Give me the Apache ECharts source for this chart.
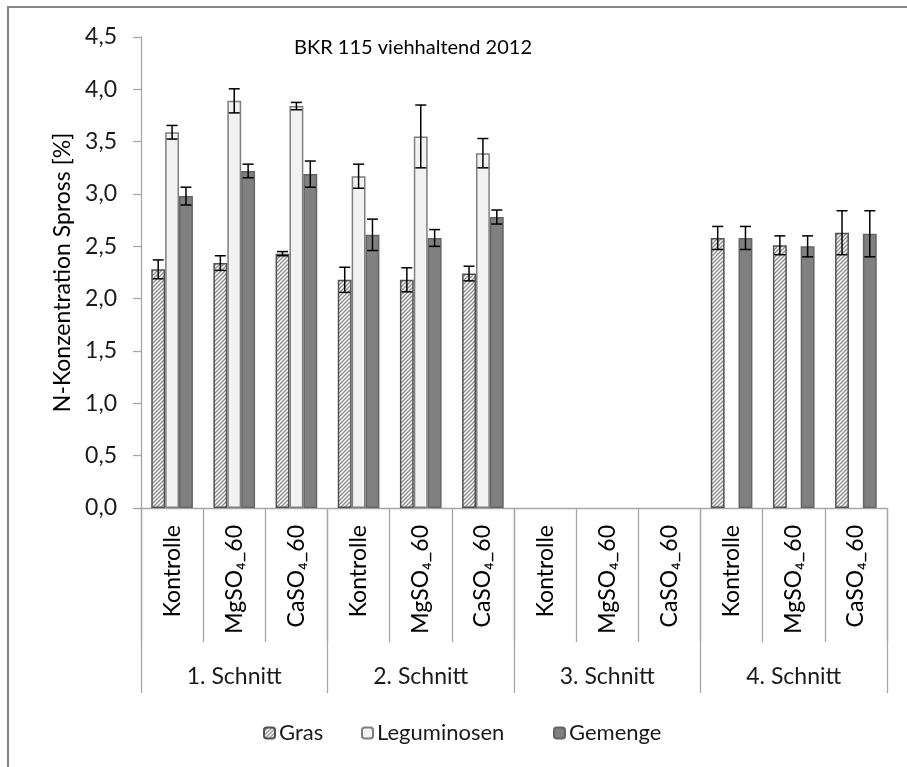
<!DOCTYPE html>
<html>
<head>
<meta charset="utf-8">
<script src="https://cdn.jsdelivr.net/npm/echarts@6/dist/echarts.min.js"></script>
<style>
  html, body { margin: 0; padding: 0; background: #fff; }
  #chart { width: 907px; height: 767px; }
</style>
</head>
<body>
<div id="chart"></div>
<script>
// Treatments per cut, repeated for four cuts
const categories = [
  'Kontrolle', 'MgSO₄_60', 'CaSO₄_60',
  'Kontrolle', 'MgSO₄_60', 'CaSO₄_60',
  'Kontrolle', 'MgSO₄_60', 'CaSO₄_60',
  'Kontrolle', 'MgSO₄_60', 'CaSO₄_60'
];
const cuts = ['1. Schnitt', '2. Schnitt', '3. Schnitt', '4. Schnitt'];

// N concentration in shoot [%] and standard errors
const gras        = [2.28, 2.34, 2.43, 2.18, 2.18, 2.24, null, null, null, 2.58, 2.51, 2.63];
const grasErr     = [0.09, 0.07, 0.02, 0.12, 0.115, 0.07, null, null, null, 0.11, 0.09, 0.21];
const legum       = [3.59, 3.89, 3.84, 3.17, 3.55, 3.39, null, null, null, null, null, null];
const legumErr    = [0.065, 0.115, 0.035, 0.115, 0.30, 0.14, null, null, null, null, null, null];
const gemenge     = [2.98, 3.22, 3.19, 2.61, 2.58, 2.78, null, null, null, 2.58, 2.50, 2.62];
const gemengeErr  = [0.085, 0.065, 0.125, 0.15, 0.08, 0.067, null, null, null, 0.11, 0.10, 0.22];

const yTicks = { min: 0, max: 4.5, step: 0.5 };

const FONT = 'Lato, "Open Sans", sans-serif';
const GAP = 0.33; // share of a category left empty between bar clusters

// diagonal hatch used for the grass bars
function hatch() {
  const c = document.createElement('canvas');
  const s = 4;
  c.width = s; c.height = s;
  const g = c.getContext('2d');
  g.fillStyle = '#ffffff';
  g.fillRect(0, 0, s, s);
  g.strokeStyle = '#8a8a8a';
  g.lineWidth = 1.3;
  g.beginPath();
  g.moveTo(-1, s + 1); g.lineTo(s + 1, -1);
  g.moveTo(-1, 1); g.lineTo(1, -1);
  g.moveTo(s - 1, s + 1); g.lineTo(s + 1, s - 1);
  g.stroke();
  return c;
}

function errData(vals, errs) {
  const out = [];
  vals.forEach((v, i) => {
    if (v != null && errs[i] != null) out.push([i, v, errs[i]]);
  });
  return out;
}

function errSeries(name, vals, errs, slot) {
  return {
    type: 'custom',
    name: name + ' err',
    z: 10,
    silent: true,
    data: errData(vals, errs),
    encode: { x: 0, y: 1 },
    renderItem: function (params, api) {
      const i = api.value(0), v = api.value(1), e = api.value(2);
      const band = api.size([1, 0])[0];
      const bw = band * (1 - GAP) / 3;
      const c = api.coord([i, v]);
      const x = c[0] + (slot - 1) * bw;
      const yt = api.coord([i, v + e])[1];
      const yb = api.coord([i, v - e])[1];
      const cap = 5.5;
      const st = { stroke: '#000', lineWidth: 1.5 };
      return {
        type: 'group',
        children: [
          { type: 'line', shape: { x1: x, y1: yt, x2: x, y2: yb }, style: st },
          { type: 'line', shape: { x1: x - cap, y1: yt, x2: x + cap, y2: yt }, style: st },
          { type: 'line', shape: { x1: x - cap, y1: yb, x2: x + cap, y2: yb }, style: st }
        ]
      };
    }
  };
}

const chart = echarts.init(document.getElementById('chart'), null, { renderer: 'canvas' });
const grey = '#a6a6a6';
const textCol = '#1a1a1a';

function legendItem(name, left) {
  return {
    left: left, top: 717,
    itemWidth: 11, itemHeight: 11,
    data: [name],
    textStyle: { fontFamily: FONT, fontSize: 22, color: textCol, padding: [0, 0, 0, -1] }
  };
}

chart.setOption({
  backgroundColor: '#fff',
  animation: false,
  title: {
    text: 'BKR 115 viehhaltend 2012',
    left: 408, top: 33, textAlign: 'center',
    textStyle: { fontFamily: FONT, fontSize: 20, fontWeight: 'normal', color: '#000' }
  },
  legend: [
    legendItem('Gras', 258),
    legendItem('Leguminosen', 356),
    legendItem('Gemenge', 548)
  ],
  graphic: [{
    type: 'rect',
    shape: { x: 8, y: 7, width: 960, height: 820 },
    style: { fill: 'none', stroke: '#868686', lineWidth: 2.2 },
    silent: true, z: -1
  }],
  grid: { left: 141, right: 20, top: 37, bottom: 259, containLabel: false },
  xAxis: [{
    type: 'category',
    data: categories,
    axisLine: { show: true, lineStyle: { color: grey, width: 1.3 } },
    axisTick: { show: true, length: 134, interval: 0, lineStyle: { color: grey, width: 1.3 } },
    axisLabel: {
      interval: 0, rotate: 90, margin: 17,
      fontFamily: FONT, fontSize: 23, color: '#000'
    }
  }, {
    type: 'category',
    data: cuts,
    position: 'bottom',
    axisLine: { show: false },
    axisTick: { show: true, length: 185, lineStyle: { color: grey, width: 1.3 } },
    axisLabel: { margin: 157, fontFamily: FONT, fontSize: 23, color: textCol }
  }],
  yAxis: {
    type: 'value',
    min: yTicks.min, max: yTicks.max, interval: yTicks.step,
    name: 'N-Konzentration Spross [%]',
    nameLocation: 'middle', nameGap: 67,
    nameTextStyle: { fontFamily: FONT, fontSize: 23, color: '#000' },
    axisLine: { show: true, lineStyle: { color: grey, width: 1.3 } },
    axisTick: { show: true, length: 8, lineStyle: { color: grey, width: 1.3 } },
    splitLine: { show: false },
    axisLabel: {
      margin: 24, fontFamily: FONT, fontSize: 23, color: textCol,
      formatter: v => v.toFixed(1).replace('.', ',')
    }
  },
  series: [{
    type: 'bar', name: 'Gras', data: gras,
    barGap: '0%', barCategoryGap: (GAP * 100) + '%',
    itemStyle: { color: { image: hatch(), repeat: 'repeat' }, borderColor: '#505050', borderWidth: 1.5 }
  }, {
    type: 'bar', name: 'Leguminosen', data: legum,
    itemStyle: { color: '#f2f2f2', borderColor: '#7f7f7f', borderWidth: 1.5 }
  }, {
    type: 'bar', name: 'Gemenge', data: gemenge,
    itemStyle: { color: '#808080', borderColor: '#656565', borderWidth: 1.5 }
  },
  errSeries('Gras', gras, grasErr, 0),
  errSeries('Leguminosen', legum, legumErr, 1),
  errSeries('Gemenge', gemenge, gemengeErr, 2)
  ]
});
</script>
</body>
</html>
